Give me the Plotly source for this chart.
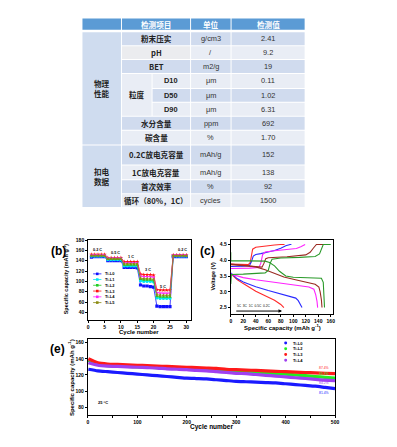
import plotly.graph_objects as go

W, H = 397, 447

# ---------------- Table data ----------------
table_header = ["检测项目", "单位", "检测值"]
group_labels = [["物理", "性能"], ["扣电", "数据"]]
items = ["粉末压实", "pH", "BET", "D10", "D50", "D90", "水分含量", "碳含量",
         "0.2C放电克容量", "1C放电克容量", "首次效率", "循环（80%，1C）"]
units = ["g/cm3", "/", "m2/g", "μm", "μm", "μm", "ppm", "%", "mAh/g", "mAh/g", "%", "cycles"]
values = ["2.41", "9.2", "19", "0.11", "1.02", "6.31", "692", "1.70", "152", "138", "92", "1500"]
size_group_label = "粒度"

# ---------------- (b) rate data ----------------
cycles_b = list(range(1, 31))
rate_labels_b = ["0.2 C", "0.5 C", "1 C", "3 C", "5 C", "0.2 C"]
names_b = ["Ti-L0", "Ti-L1", "Ti-L2", "Ti-L3", "Ti-L4", "Ti-L5"]
L0_b = [147, 148, 148, 148, 148, 140, 140, 140, 140, 140, 127, 127, 127, 127, 126,
        93, 91, 91, 90, 89, 52, 51, 51, 51, 51, 148, 148, 148, 148, 148]
L1_b = [149, 149, 149, 149, 149, 142, 142, 142, 142, 142, 130, 130, 130, 130, 130,
        101, 100, 100, 100, 99, 68, 67, 67, 67, 67, 149, 149, 149, 149, 149]
L2_b = [150, 150, 150, 150, 150, 143, 143, 143, 143, 143, 132, 132, 132, 132, 132,
        104, 103, 103, 103, 102, 71, 70, 70, 70, 70, 150, 150, 150, 150, 150]
L3_b = [152, 152, 152, 152, 152, 146, 146, 146, 146, 146, 138, 138, 138, 138, 138,
        114, 113, 113, 113, 112, 84, 83, 83, 83, 83, 151, 151, 151, 151, 151]
L4_b = [151, 151, 151, 151, 151, 145, 145, 145, 145, 145, 136, 136, 136, 136, 136,
        110, 109, 109, 109, 108, 78, 77, 77, 77, 77, 151, 151, 151, 151, 151]
L5_b = [150, 150, 150, 150, 150, 144, 144, 144, 144, 144, 134, 134, 134, 134, 134,
        106, 105, 105, 105, 104, 74, 73, 73, 73, 73, 150, 150, 150, 150, 150]
series_b = [L0_b, L1_b, L2_b, L3_b, L4_b, L5_b]
colors_b = ["#1010FF", "#00E8F0", "#22CC22", "#FF1010", "#FF22FF", "#8A8A10"]
symbols_b = ["square", "circle", "triangle-up", "star", "triangle-down", "triangle-left"]

# ---------------- (c) charge / discharge data ----------------
rates_c = ["5C", "3C", "1C", "0.5C", "0.2C"]
colors_c = ["#FF2A2A", "#2A2AFF", "#FF22FF", "#9A2A22", "#2A9A2A"]
charge_cap = [
    [0, 10, 20, 28, 31, 33, 35, 40, 50, 60, 70, 80, 86],
    [0, 10, 20, 30, 33, 36, 40, 48, 60, 70, 80, 88, 95, 97],
    [0, 15, 30, 45, 48, 51, 55, 70, 90, 105, 112, 117, 119],
    [0, 20, 40, 50, 53, 56, 60, 90, 120, 127, 132, 137, 148],
    [0, 1, 20, 40, 55, 60, 63, 66, 80, 110, 135, 142, 146, 148, 160],
]
charge_v = [
    [3.88, 3.87, 3.86, 3.86, 3.92, 4.20, 4.35, 4.41, 4.44, 4.46, 4.48, 4.50, 4.50],
    [3.80, 3.80, 3.81, 3.83, 3.95, 4.13, 4.18, 4.21, 4.26, 4.31, 4.38, 4.46, 4.50, 4.50],
    [3.74, 3.74, 3.75, 3.77, 3.90, 4.18, 4.26, 4.30, 4.33, 4.37, 4.43, 4.50, 4.50],
    [3.86, 3.82, 3.79, 3.78, 3.90, 4.05, 4.08, 4.11, 4.17, 4.25, 4.38, 4.50, 4.50],
    [3.25, 3.55, 3.56, 3.58, 3.60, 3.68, 3.90, 4.03, 4.07, 4.09, 4.12, 4.20, 4.40, 4.50, 4.50],
]
discharge_cap = [
    [0, 5, 10, 20, 30, 40, 50, 60, 70, 80, 85],
    [0, 10, 20, 40, 60, 80, 95, 104, 108, 111, 114],
    [0, 20, 40, 70, 100, 125, 133, 136, 138, 139],
    [0, 20, 40, 55, 70, 85, 100, 120, 135, 141, 143, 145, 146],
    [0, 0, 30, 55, 62, 70, 78, 88, 100, 125, 145, 148, 149, 150],
]
discharge_v = [
    [3.58, 3.47, 3.39, 3.26, 3.13, 3.02, 2.92, 2.83, 2.73, 2.60, 2.50],
    [3.60, 3.42, 3.31, 3.16, 3.04, 2.94, 2.86, 2.80, 2.72, 2.62, 2.50],
    [3.56, 3.45, 3.38, 3.30, 3.22, 3.15, 3.08, 2.90, 2.70, 2.50],
    [3.88, 3.84, 3.79, 3.70, 3.58, 3.47, 3.40, 3.32, 3.24, 3.15, 3.00, 2.75, 2.50],
    [4.25, 3.98, 3.98, 3.97, 3.93, 3.82, 3.65, 3.50, 3.46, 3.45, 3.43, 3.30, 3.00, 2.50],
]

# ---------------- (e) cycling data ----------------
cycles_e = [1, 20, 40, 60, 80, 100, 120, 140, 160, 180, 200, 220, 240, 260, 280, 300,
            320, 340, 360, 380, 400, 420, 440, 460, 480, 500]
names_e = ["Ti-L0", "Ti-L2", "Ti-L3", "Ti-L4"]
L0_e = [127, 125, 124, 123, 122, 121, 120, 119, 118, 117, 116, 115.5, 115, 114, 113, 112,
        111.5, 111, 110.5, 110, 109, 108, 107, 106, 104.5, 103]
L2_e = [138, 133, 131.5, 131, 130.5, 130, 129.5, 129, 128.5, 128, 127.5, 127, 126, 125.5, 124.5, 124,
        123.5, 123, 122.5, 121.5, 121, 120, 119, 118, 117, 116]
L3_e = [140, 135, 133.5, 133, 132.5, 132, 131.5, 131, 130.5, 130, 129.5, 129, 128.5, 128, 127, 126.5,
        126, 125.5, 125, 124.5, 124, 123.5, 123, 122.5, 122, 121.5]
L4_e = [135, 132, 131, 130.5, 130, 129.5, 129, 128.5, 127.5, 127, 126.5, 125.5, 125, 124, 123, 122,
        121.5, 120.5, 119.5, 118.5, 117.5, 116.5, 115.5, 114.5, 113.5, 113]
series_e = [L0_e, L2_e, L3_e, L4_e]
colors_e = ["#1A1AFF", "#22EE22", "#FF1A1A", "#A040F0"]
retention_e = ["81.4%", "85.3%", "87.4%", "84.2%"]

# ---------------- Figure ----------------
fig = go.Figure()
FONT = "Liberation Sans"
CJK = "Noto Sans CJK SC"

# (b)
for name, ys, c, s in zip(names_b, series_b, colors_b, symbols_b):
    fig.add_trace(go.Scatter(x=cycles_b, y=ys, mode="lines+markers", name=name,
                             line=dict(color=c, width=0.8),
                             marker=dict(symbol=s, size=3.2, color=c),
                             xaxis="x", yaxis="y"))
# (c)
for i, c in enumerate(colors_c):
    fig.add_trace(go.Scatter(x=charge_cap[i], y=charge_v[i], mode="lines",
                             line=dict(color=c, width=1.1), xaxis="x2", yaxis="y2"))
    fig.add_trace(go.Scatter(x=discharge_cap[i], y=discharge_v[i], mode="lines",
                             line=dict(color=c, width=1.1), xaxis="x2", yaxis="y2"))
# (e)
for name, ys, c in zip(names_e, series_e, colors_e):
    fig.add_trace(go.Scatter(x=cycles_e, y=ys, mode="lines", name=name,
                             line=dict(color=c, width=3.2, shape="spline", smoothing=0.6),
                             xaxis="x3", yaxis="y3"))
# overlay pixel axis (for table / labels)
fig.add_trace(go.Scatter(x=[None], y=[None], xaxis="x4", yaxis="y4", hoverinfo="skip"))


def dom_x(a, b):
    return [a / W, b / W]


def dom_y(top, bot):
    return [1 - bot / H, 1 - top / H]


def axis(**kw):
    d = dict(showline=True, linecolor="black", linewidth=1, mirror=True, ticks="outside",
             ticklen=2, tickwidth=0.8, tickcolor="black", showgrid=False, zeroline=False,
             tickfont=dict(family=FONT, size=5, color="black", weight="bold"))
    d.update(kw)
    return d


fig.update_layout(
    width=W, height=H, margin=dict(l=0, r=0, t=0, b=0),
    paper_bgcolor="white", plot_bgcolor="rgba(0,0,0,0)", showlegend=False,
    xaxis=axis(domain=dom_x(88.3, 192), range=[0, 31.3], tickvals=[0, 5, 10, 15, 20, 25, 30], anchor="y"),
    yaxis=axis(domain=dom_y(238.7, 318.7), range=[26, 180], tickvals=[40, 60, 80, 100, 120, 140, 160, 180], anchor="x"),
    xaxis2=axis(domain=dom_x(232.7, 336.5), range=[0, 164], tickvals=[0, 20, 40, 60, 80, 100, 120, 140, 160], anchor="y2"),
    yaxis2=axis(domain=dom_y(238.3, 313), range=[2.3, 4.65], tickvals=[2.5, 3.0, 3.5, 4.0, 4.5], ticktext=["2.5", "3.0", "3.5", "4.0", "4.5"], anchor="x2"),
    xaxis3=axis(domain=dom_x(88, 338.3), range=[0, 500], tickvals=[0, 100, 200, 300, 400, 500],
                minor=dict(ticks="outside", ticklen=1.5, tickvals=[50, 150, 250, 350, 450]), anchor="y3"),
    yaxis3=axis(domain=dom_y(338.3, 415), range=[70, 164.5], tickvals=[80, 100, 120, 140, 160], anchor="x3"),
    xaxis4=dict(domain=[0, 1], range=[0, W], visible=False, anchor="y4"),
    yaxis4=dict(domain=[0, 1], range=[H, 0], visible=False, anchor="x4"),
)

shapes = []
ann = []


def rect(x0, y0, x1, y1, color):
    shapes.append(dict(type="rect", xref="x4", yref="y4", x0=x0 + 0.5, y0=y0 + 0.5,
                       x1=x1 - 0.5, y1=y1 - 0.5, fillcolor=color, line=dict(width=0), layer="below"))


def text(x, y, t, size=7.5, color="#222222", bold=False, family=CJK, anchor="center", angle=0):
    ann.append(dict(x=x, y=y, xref="x4", yref="y4", text=t, showarrow=False, textangle=angle,
                    xanchor=anchor, yanchor="middle",
                    font=dict(family=family, size=size, color=color, weight="bold" if bold else "normal")))


# ---- table ----
HEAD = "#5B9BD5"
GROUP = "#CFDCEF"
DARK = "#D0DBEE"
LIGHT = "#E9EDF5"
col_x = [82, 122, 153, 192, 233, 308]
head_y = [15, 27.5]
row_y = [29, 43, 57, 71, 86, 100, 114, 128, 143, 163, 178, 192, 206]
group_rows = [(0, 8), (8, 12)]
size_rows = (3, 6)
CJK_SIZE = 7.6
VAL_SIZE = 7.4

rect(col_x[0], head_y[0], col_x[1], head_y[1], HEAD)
rect(col_x[1], head_y[0], col_x[3], head_y[1], HEAD)
rect(col_x[3], head_y[0], col_x[4], head_y[1], HEAD)
rect(col_x[4], head_y[0], col_x[5], head_y[1], HEAD)
hc = (head_y[0] + head_y[1]) / 2
text((col_x[1] + col_x[3]) / 2, hc, table_header[0], color="white", bold=True, size=CJK_SIZE)
text((col_x[3] + col_x[4]) / 2, hc, table_header[1], color="white", bold=True, size=CJK_SIZE)
text((col_x[4] + col_x[5]) / 2, hc, table_header[2], color="white", bold=True, size=CJK_SIZE)

for gi, (a, b) in enumerate(group_rows):
    rect(col_x[0], row_y[a], col_x[1], row_y[b], GROUP)
    yc = (row_y[a] + row_y[b]) / 2
    text((col_x[0] + col_x[1]) / 2, yc - 5.3, group_labels[gi][0], bold=True, size=CJK_SIZE)
    text((col_x[0] + col_x[1]) / 2, yc + 5.3, group_labels[gi][1], bold=True, size=CJK_SIZE)

rect(col_x[1], row_y[size_rows[0]], col_x[2], row_y[size_rows[1]], LIGHT)
text((col_x[1] + col_x[2]) / 2, (row_y[size_rows[0]] + row_y[size_rows[1]]) / 2, size_group_label,
     bold=True, size=CJK_SIZE)

for i in range(len(items)):
    y0, y1 = row_y[i], row_y[i + 1]
    yc = (y0 + y1) / 2
    col = DARK if i % 2 == 0 else LIGHT
    if size_rows[0] <= i < size_rows[1]:
        rect(col_x[2], y0, col_x[3], y1, col)
        text((col_x[2] + col_x[3]) / 2, yc, items[i], bold=True, family=FONT, size=VAL_SIZE)
    else:
        rect(col_x[1], y0, col_x[3], y1, "#EBECEF" if items[i] == "pH" else col)
        text((col_x[1] + col_x[3]) / 2, yc, items[i], bold=True, size=CJK_SIZE)
    rect(col_x[3], y0, col_x[4], y1, col)
    rect(col_x[4], y0, col_x[5], y1, col)
    text((col_x[3] + col_x[4]) / 2, yc, units[i], family=FONT, size=VAL_SIZE, color="#333333")
    text((col_x[4] + col_x[5]) / 2, yc, values[i], family=FONT, size=VAL_SIZE, color="#333333")

# ---- panel labels and axis titles ----
text(58, 250, "(b)", size=12, bold=True, family=FONT, color="black")
text(209, 250, "(c)", size=12, bold=True, family=FONT, color="black")
text(57, 348, "(e)", size=12, bold=True, family=FONT, color="black")
text(66, 278, "Specific capacity (mAh g<sup>-1</sup>)", size=5.5, bold=True, family=FONT, color="black", angle=-90)
text(140, 331, "Cycle number", size=6, bold=True, family=FONT, color="black")
text(215, 275, "Voltage (V)", size=5.5, bold=True, family=FONT, color="black", angle=-90)
text(285, 326, "Specific capacity (mAh g<sup>-1</sup>)", size=6, bold=True, family=FONT, color="black")
text(71.5, 377, "Specific capacity (mAh g<sup>-1</sup>)", size=6, bold=True, family=FONT, color="black", angle=-90)
text(213, 427, "Cycle number", size=6.5, bold=True, family=FONT, color="black")

# ---- (b) rate labels (data coords) ----
rate_pos_b = [(3, 161), (8.3, 154.5), (13.1, 146.5), (18.4, 122), (23, 90), (28.9, 160)]
for (x, y), t in zip(rate_pos_b, rate_labels_b):
    ann.append(dict(x=x, y=y, xref="x", yref="y", text=t, showarrow=False,
                    font=dict(family=FONT, size=3.8, color="black", weight="bold")))

# ---- (b) legend ----
leg_y_b = [272.7, 278.4, 284.2, 290, 295.8, 301.6]
for name, c, ly in zip(names_b, colors_b, leg_y_b):
    shapes.append(dict(type="line", xref="x4", yref="y4", x0=93.3, x1=101.7, y0=ly, y1=ly,
                       line=dict(color=c, width=0.8)))
    shapes.append(dict(type="rect", xref="x4", yref="y4", x0=96.2, x1=98.8, y0=ly - 1.3, y1=ly + 1.3,
                       fillcolor=c, line=dict(width=0)))
    text(103.5, ly, name, size=4, bold=True, family=FONT, color="black", anchor="left")

# ---- (c) arrow and rate text ----
ann.append(dict(x=82, y=2.39, ax=4, ay=2.39, xref="x2", yref="y2", axref="x2", ayref="y2",
                showarrow=True, arrowhead=2, arrowsize=0.7, arrowwidth=1, arrowcolor="black", text=" "))
ann.append(dict(x=37, y=2.56, xref="x2", yref="y2", text="  ".join(rates_c), showarrow=False,
                font=dict(family=FONT, size=3.2, color="black")))

# ---- (e) labels ----
ann.append(dict(x=30, y=86, xref="x3", yref="y3", text="25 °C", showarrow=False,
                font=dict(family=FONT, size=4, color="black", weight="bold")))
ret_y = [97.5, 121.7, 128.2, 110.5]
for t, c, y in zip(retention_e, colors_e, ret_y):
    ann.append(dict(x=478, y=y, xref="x3", yref="y3", text=t, showarrow=False,
                    font=dict(family=FONT, size=3.4, color=c)))
leg_y_e = [342.3, 348, 353.8, 359.6]
for name, c, ly in zip(names_e, colors_e, leg_y_e):
    shapes.append(dict(type="circle", xref="x4", yref="y4", x0=286.8, x1=289.8, y0=ly - 1.5, y1=ly + 1.5,
                       fillcolor=c, line=dict(width=0)))
    text(293.5, ly, name, size=4, bold=True, family=FONT, color="black", anchor="left")

fig.update_layout(shapes=shapes, annotations=ann)
fig.write_html("out.html", config={"displayModeBar": False},
               post_script="document.body.style.margin='0px';document.body.style.overflow='hidden';")
